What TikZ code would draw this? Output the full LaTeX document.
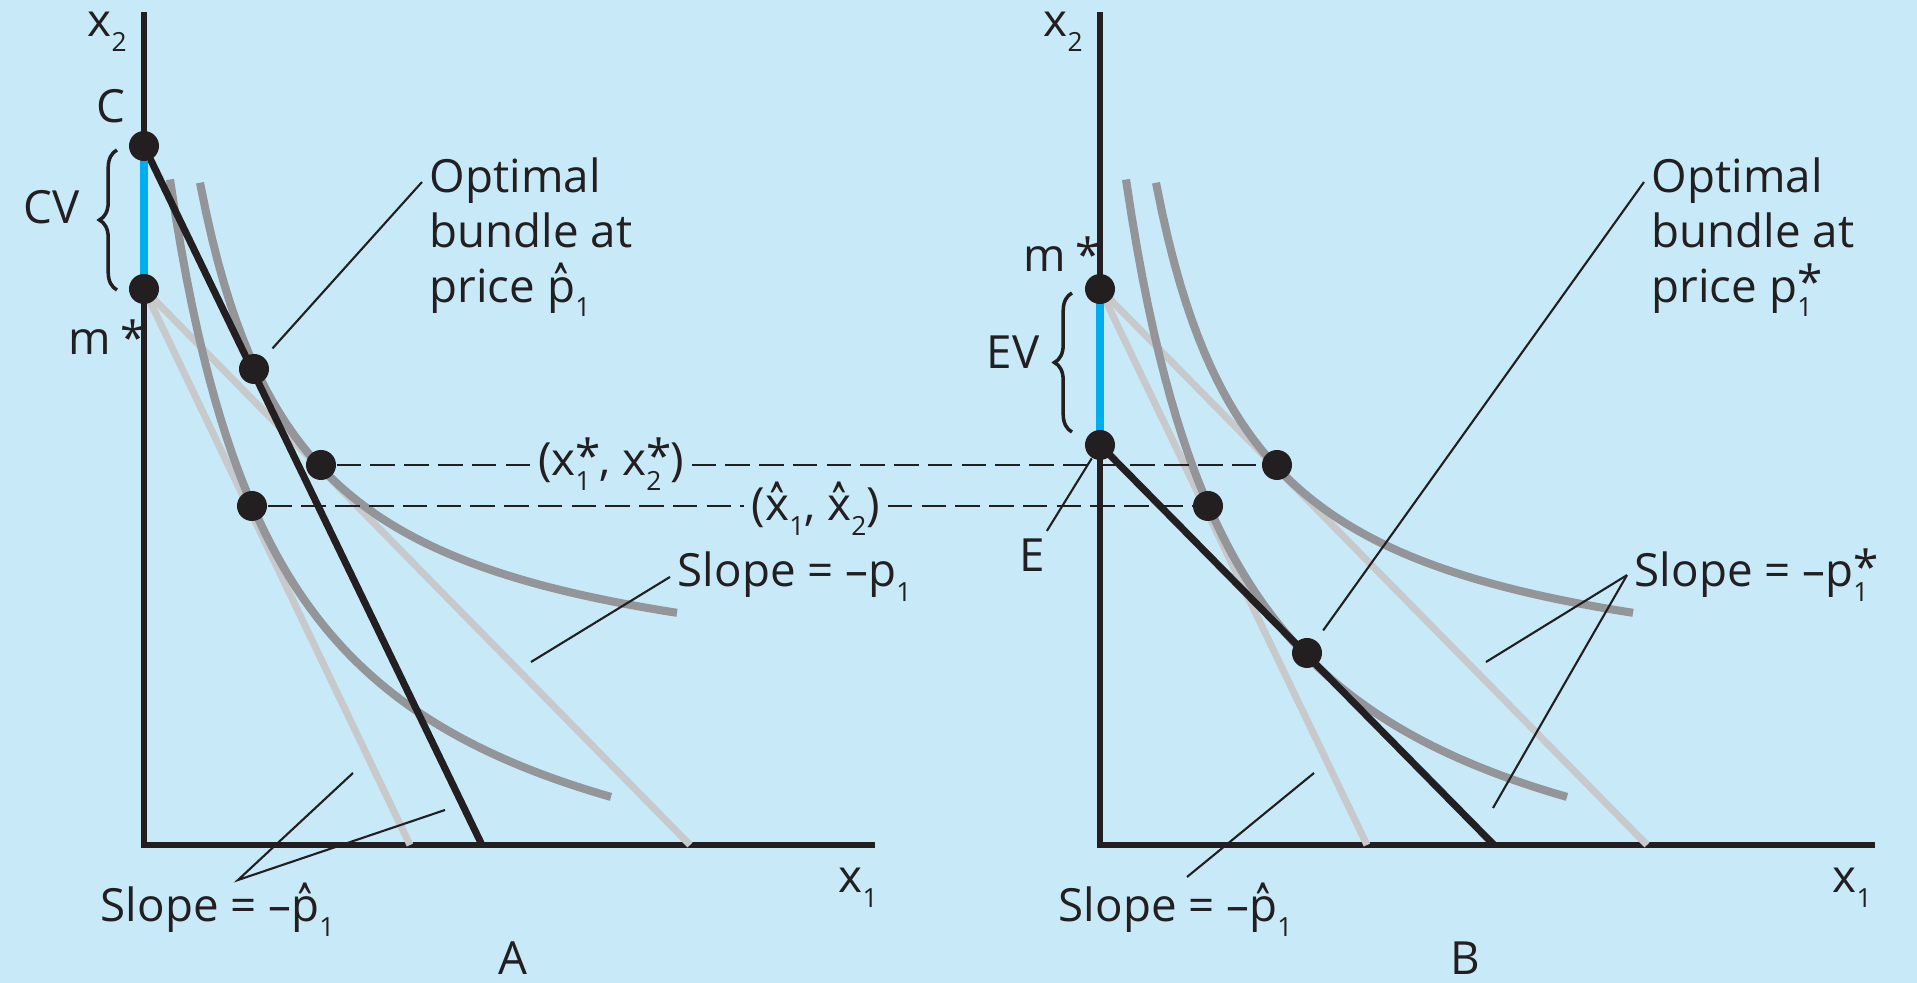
\documentclass[tikz,border=0pt]{standalone}
\usepackage{fontspec}
\usepackage{graphicx}
\setmainfont{Open Sans}
\usetikzlibrary{decorations.pathreplacing}
\definecolor{panel}{RGB}{200,234,248}
\definecolor{ink}{RGB}{35,31,32}
\definecolor{icurve}{RGB}{147,149,152}
\definecolor{bline}{RGB}{200,201,203}
\definecolor{gap}{RGB}{0,174,239}
\newcommand{\lowsub}[1]{\raisebox{-0.32em}{\fontsize{7.5}{7.5}\selectfont #1}}
\newcommand{\xst}[2]{#1\rlap{\raisebox{0.08em}{*}}\makebox[0.52em][l]{\lowsub{#2}}}
\newcommand{\hatted}[1]{\setbox0\hbox{#1}\rlap{\hbox to\wd0{\hss\raisebox{-0.3em}{\scalebox{0.8}[1.5]{ˆ}}\hss}}\box0}

\begin{document}
\begin{tikzpicture}[
  x=0.01cm,y=-0.01cm,
  font=\fontsize{13}{15.6}\selectfont,
  axis/.style={line width=1.7pt,ink},
  budget/.style={line width=2pt,ink},
  oldline/.style={line width=2pt,bline},
  indiff/.style={line width=2.3pt,icurve},
  gapline/.style={line width=2.3pt,gap},
  dot/.style={circle,fill=ink,minimum size=0.3cm,inner sep=0pt},
  lbl/.style={inner sep=2pt,text=ink},
  lead/.style={line width=0.6pt,ink},
  guide/.style={line width=0.75pt,ink,dash pattern=on 7pt off 2.6pt},
  brc/.style={decorate,decoration={brace,amplitude=5pt},line width=1pt,ink}
]
  \fill[panel] (0,0) rectangle (1917,983);
  \useasboundingbox (0,0) rectangle (1917,983);
  \draw[axis] (144,12) -- (144,845) -- (875,845);
  \draw[axis] (1100,12) -- (1100,845) -- (1875,845);
  \draw[oldline] (144,289) -- (690,845);
  \draw[oldline] (144,289) -- (410,845);
  \draw[oldline] (1100,289) -- (1647,845);
  \draw[oldline] (1100,289) -- (1367,845);
  \draw[indiff] plot[domain=170:611,samples=80] (\x,{956.4-884.36/(0.01*(\x-56.1))});
  \draw[indiff] plot[domain=200:677,samples=80] (\x,{703-520/(0.01*(\x-100))});
  \draw[indiff,shift={(956,0)}] plot[domain=170:611,samples=80] (\x,{956.4-884.36/(0.01*(\x-56.1))});
  \draw[indiff,shift={(956,0)}] plot[domain=200:677,samples=80] (\x,{703-520/(0.01*(\x-100))});
  \draw[budget] (144,146) -- (482,845);
  \draw[budget] (1100,445) -- (1494,845);
  \draw[gapline] (144,146) -- (144,289);
  \draw[gapline] (1100,289) -- (1100,445);
  \draw[brc] (117,290) -- (117,150);
  \draw[brc] (1072,432) -- (1072,293);

  \node[dot] (C) at (144,146) {};
  \node[dot] (mA) at (144,289) {};
  \node[dot] (optA) at (254,369) {};
  \node[dot] (starA) at (321,465) {};
  \node[dot] (hatA) at (252,506) {};
  \node[dot] (mB) at (1100,289) {};
  \node[dot] (E) at (1100,445) {};
  \node[dot] (optB) at (1307,653) {};
  \node[dot] (starB) at (1277,465) {};
  \node[dot] (hatB) at (1208,506) {};

  \node[lbl,anchor=base west] (xtwoA) at (80,37) {x\lowsub{2}};
  \node[lbl,anchor=base west] (xtwoB) at (1036,37) {x\lowsub{2}};
  \node[lbl,anchor=base west] (xoneA) at (831,893) {x\lowsub{1}};
  \node[lbl,anchor=base west] (xoneB) at (1825,893) {x\lowsub{1}};
  \node[lbl] (Clbl) at (111,106) {C};
  \node[lbl] (CV) at (52,207) {CV};
  \node[lbl,anchor=base west] (mAlbl) at (61,355) {m\hspace{0.2em}*};
  \node[lbl,anchor=base west] (mBlbl) at (1016,272) {m\hspace{0.2em}*};
  \node[lbl] (EV) at (1013,352) {EV};
  \node[lbl] (Elbl) at (1032,555) {E};
  \node[lbl,inner sep=0pt] (panelA) at (513,958) {A};
  \node[lbl,inner sep=0pt] (panelB) at (1465,958) {B};
  \node[lbl,anchor=north west,align=left] (optAtxt) at (422,150) {Optimal\\bundle at\\price \hatted{p}\lowsub{1}};
  \node[lbl,anchor=north west,align=left] (optBtxt) at (1644,150) {Optimal\\bundle at\\price \xst{p}{1}};
  \node[lbl,anchor=base] (starlbl) at (611,476) {(\xst{x}{1}, \xst{x}{2})};
  \node[lbl,anchor=base] (hatlbl) at (816,521) {(\hatted{x}\lowsub{1}, \hatted{x}\lowsub{2})};
  \node[lbl,anchor=base west] (slA) at (670,587) {Slope = –p\lowsub{1}};
  \node[lbl,anchor=base west] (slB) at (1627,587) {Slope = –\xst{p}{1}};
  \node[lbl,anchor=base west] (slhA) at (93,922) {Slope = –\hatted{p}\lowsub{1}};
  \node[lbl,anchor=base west] (slhB) at (1051,922) {Slope = –\hatted{p}\lowsub{1}};

  \draw[guide] (starA) -- (starA -| starlbl.west);
  \draw[guide] (starA -| starlbl.east) -- (starB);
  \draw[guide] (hatA) -- (hatA -| hatlbl.west);
  \draw[guide] (hatA -| hatlbl.east) -- (hatB);

  \coordinate (optAtip) at (422,182);
  \coordinate (optBtip) at (1644,182);
  \coordinate (slAend) at (531,662);
  \coordinate (slBend1) at (1486,662);
  \coordinate (slBend2) at (1493,808);
  \coordinate (slhAapex) at (238,880);
  \coordinate (slhAend1) at (353,773);
  \coordinate (slhAend2) at (445,810);
  \coordinate (slhBapex) at (1187,877);
  \coordinate (slhBend) at (1314,773);
  \draw[lead,shorten <=0.12cm] (optA) -- (optAtip);
  \draw[lead,shorten <=0.12cm] (optB) -- (optBtip);
  \draw[lead] (slA.west) -- (slAend);
  \draw[lead] (slB.west) -- (slBend1);
  \draw[lead] (slB.west) -- (slBend2);
  \draw[lead] (slhAend1) -- (slhAapex) -- (slhAend2);
  \draw[lead] (slhBapex) -- (slhBend);
  \draw[lead] (E) -- (Elbl);
\end{tikzpicture}
\end{document}
